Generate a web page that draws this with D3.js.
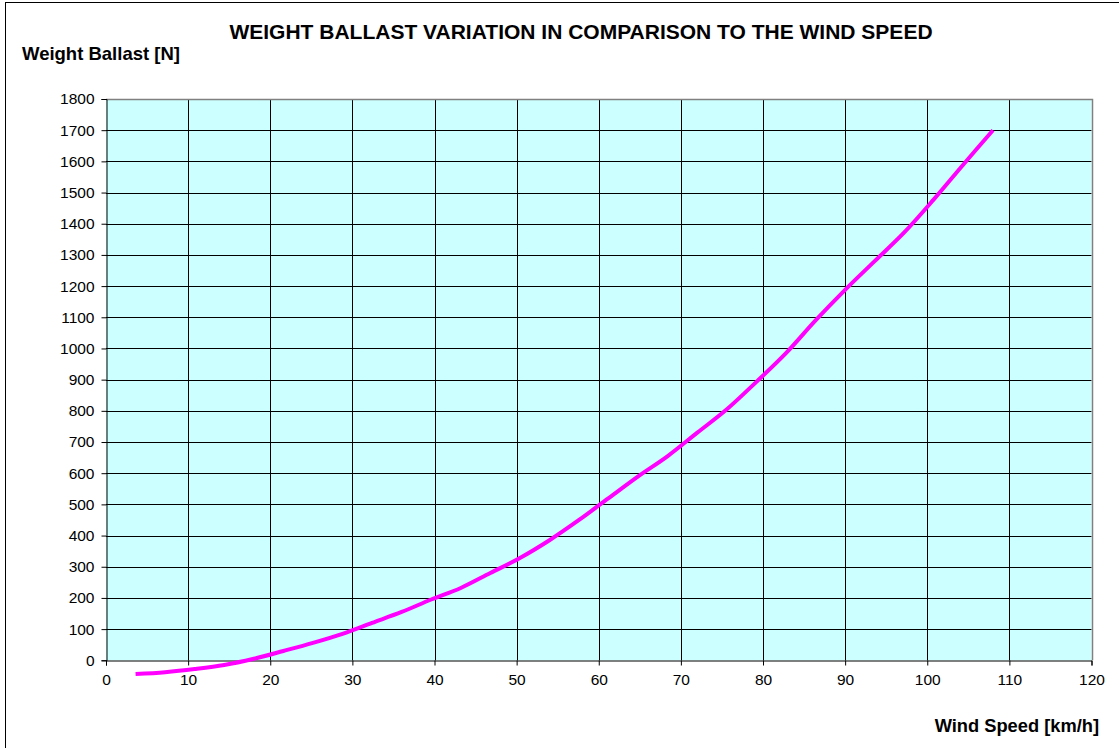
<!DOCTYPE html>
<html>
<head>
<meta charset="utf-8">
<script src="https://cdn.jsdelivr.net/npm/d3@7"></script>
<style>
  html, body { margin: 0; padding: 0; background: #fff; }
  svg { display: block; font-family: "Liberation Sans", Arial, sans-serif; }
</style>
</head>
<body>
<svg id="chart" width="1119" height="748"></svg>
<script>
// Wind speed (km/h) at each measured point
const windSpeed = [3.6, 7.2, 10.8, 14.4, 18.0, 21.6, 25.2, 28.8, 32.4, 36.0,
                   39.6, 43.2, 46.8, 50.4, 54.0, 57.6, 61.2, 64.8, 68.4, 72.0,
                   75.6, 79.2, 82.8, 86.4, 90.0, 93.6, 97.2, 100.8, 104.4, 108.0];
// Required weight ballast (N) at each wind speed
const ballast = [-44, -38, -28, -15, 5, 30, 56, 85, 120, 155,
                 195, 232, 280, 328, 385, 450, 520, 590, 655, 730,
                 805, 893, 985, 1090, 1188, 1280, 1372, 1478, 1590, 1700];
const xTicks = [0, 10, 20, 30, 40, 50, 60, 70, 80, 90, 100, 110, 120];
const yTicks = [0, 100, 200, 300, 400, 500, 600, 700, 800, 900,
                1000, 1100, 1200, 1300, 1400, 1500, 1600, 1700, 1800];

const titleText = "WEIGHT BALLAST VARIATION IN COMPARISON TO THE WIND SPEED";
const yTitle = "Weight Ballast [N]";
const xTitle = "Wind Speed [km/h]";

const svg = d3.select("#chart");
const plot = { left: 106, right: 1091.5, top: 99, bottom: 660.3 };

const x = d3.scaleLinear().domain([0, 120]).range([plot.left, plot.right]);
const y = d3.scaleLinear().domain([0, 1800]).range([plot.bottom, plot.top]);

// Outer chart frame (only left and top edges fall inside the page)
svg.append("rect")
  .attr("x", 5.5).attr("y", 2.5)
  .attr("width", 1130).attr("height", 760)
  .attr("fill", "none").attr("stroke", "#000").attr("stroke-width", 1);

// Plot background
svg.append("rect")
  .attr("x", plot.left).attr("y", plot.top)
  .attr("width", plot.right - plot.left).attr("height", plot.bottom - plot.top)
  .attr("fill", "#CCFFFF");

// Grid lines
svg.append("g").selectAll("line")
  .data(yTicks.filter(d => d > 0 && d < 1800))
  .join("line")
  .attr("x1", plot.left).attr("x2", plot.right)
  .attr("y1", d => Math.round(y(d)) + 0.5).attr("y2", d => Math.round(y(d)) + 0.5)
  .attr("stroke", "#000").attr("stroke-width", 1);

svg.append("g").selectAll("line")
  .data(xTicks.filter(d => d > 0 && d < 120))
  .join("line")
  .attr("x1", d => Math.round(x(d)) + 0.5).attr("x2", d => Math.round(x(d)) + 0.5)
  .attr("y1", plot.top).attr("y2", plot.bottom)
  .attr("stroke", "#000").attr("stroke-width", 1);

// Plot frame: grey top and right edges
svg.append("path")
  .attr("d", `M${plot.left},${Math.round(plot.top) + 0.5}H${Math.round(plot.right) + 0.5}V${plot.bottom}`)
  .attr("fill", "none").attr("stroke", "#808080").attr("stroke-width", 1.5);

// Axes
const xAxis = d3.axisBottom(x).tickValues(xTicks).tickSize(5).tickPadding(8)
  .tickFormat(d3.format("d"));
const yAxis = d3.axisLeft(y).tickValues(yTicks).tickSize(5).tickPadding(7)
  .tickFormat(d3.format("d"));

const gx = svg.append("g")
  .attr("transform", `translate(0,${Math.round(plot.bottom) + 0.5})`)
  .call(xAxis);
const gy = svg.append("g")
  .attr("transform", `translate(${Math.round(plot.left) + 0.5},0)`)
  .call(yAxis);

[gx, gy].forEach(g => {
  g.select(".domain").attr("stroke", "#000").attr("stroke-width", 1);
  g.selectAll(".tick line").attr("stroke", "#000");
  g.selectAll(".tick text")
    .attr("fill", "#000")
    .style("font-family", "'Liberation Sans', Arial, sans-serif")
    .style("font-size", "15.5px");
});

// Weight ballast curve
const line = d3.line()
  .x((d, i) => x(windSpeed[i]))
  .y(d => y(d))
  .curve(d3.curveCatmullRom.alpha(0.5));

svg.append("path")
  .datum(ballast)
  .attr("d", line)
  .attr("fill", "none")
  .attr("stroke", "#FF00FF")
  .attr("stroke-width", 4)
  .attr("stroke-linejoin", "round");

// Titles
svg.append("text")
  .attr("x", 581).attr("y", 39)
  .attr("text-anchor", "middle")
  .style("font-size", "21px").style("font-weight", "bold")
  .text(titleText);

svg.append("text")
  .attr("x", 22).attr("y", 60)
  .style("font-size", "18.5px").style("font-weight", "bold")
  .text(yTitle);

svg.append("text")
  .attr("x", 1099).attr("y", 732)
  .attr("text-anchor", "end")
  .style("font-size", "18.3px").style("font-weight", "bold")
  .text(xTitle);
</script>
</body>
</html>
